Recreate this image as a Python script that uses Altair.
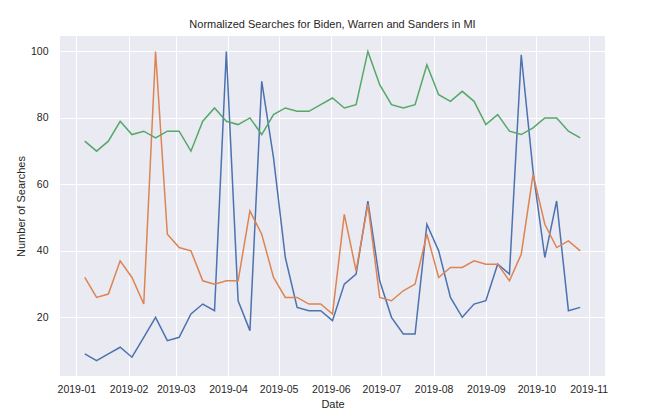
import altair as alt
import pandas as pd

dates = [
    "2019-01-06", "2019-01-13", "2019-01-20", "2019-01-27", "2019-02-03", "2019-02-10",
    "2019-02-17", "2019-02-24", "2019-03-03", "2019-03-10", "2019-03-17", "2019-03-24",
    "2019-03-31", "2019-04-07", "2019-04-14", "2019-04-21", "2019-04-28", "2019-05-05",
    "2019-05-12", "2019-05-19", "2019-05-26", "2019-06-02", "2019-06-09", "2019-06-16",
    "2019-06-23", "2019-06-30", "2019-07-07", "2019-07-14", "2019-07-21", "2019-07-28",
    "2019-08-04", "2019-08-11", "2019-08-18", "2019-08-25", "2019-09-01", "2019-09-08",
    "2019-09-15", "2019-09-22", "2019-09-29", "2019-10-06", "2019-10-13", "2019-10-20",
    "2019-10-27",
]
biden = [9, 7, 9, 11, 8, 14, 20, 13, 14, 21, 24, 22, 100, 25, 16, 91, 68, 38, 23, 22, 22,
         19, 30, 33, 55, 31, 20, 15, 15, 48, 40, 26, 20, 24, 25, 36, 33, 99, 64, 38, 55, 22, 23]
warren = [32, 26, 27, 37, 32, 24, 100, 45, 41, 40, 31, 30, 31, 31, 52, 45, 32, 26, 26, 24, 24,
          21, 51, 34, 54, 26, 25, 28, 30, 45, 32, 35, 35, 37, 36, 36, 31, 39, 63, 48, 41, 43, 40]
sanders = [73, 70, 73, 79, 75, 76, 74, 76, 76, 70, 79, 83, 79, 78, 80, 75, 81, 83, 82, 82, 84,
           86, 83, 84, 100, 90, 84, 83, 84, 96, 87, 85, 88, 85, 78, 81, 76, 75, 77, 80, 80, 76, 74]
series = ["Biden", "Warren", "Sanders"]
colors = ["#4C72B0", "#DD8452", "#55A868"]
y_ticks = [20, 40, 60, 80, 100]
month_ticks = list(range(1, 12))

df = pd.DataFrame({"date": dates, "Biden": biden, "Warren": warren, "Sanders": sanders})

FONT = "Liberation Sans"
TXT = "#262626"

x_enc = alt.X(
    "date:T",
    title="Date",
    scale=alt.Scale(
        type="utc",
        domain=[
            alt.DateTime(year=2018, month=12, date=22, hours=7, minutes=12, utc=True),
            alt.DateTime(year=2019, month=11, date=10, hours=16, minutes=48, utc=True),
        ],
    ),
    axis=alt.Axis(
        values=[alt.DateTime(year=2019, month=m, date=1, utc=True) for m in month_ticks],
        format="%Y-%m",
        labelPadding=8,
        titlePadding=4,
        labelFlush=False,
    ),
)

layers = []
for name, col in zip(series, colors):
    layers.append(
        alt.Chart(df)
        .mark_line(color=col, strokeWidth=1.5)
        .encode(
            x=x_enc,
            y=alt.Y(
                f"{name}:Q",
                title="Number of Searches",
                scale=alt.Scale(domain=[2.35, 104.65], nice=False, zero=False),
                axis=alt.Axis(values=y_ticks, labelPadding=12, titlePadding=4),
            ),
        )
    )

chart = (
    alt.layer(*layers)
    .properties(
        width=545,
        height=340,
        title=alt.TitleParams(
            "Normalized Searches for Biden, Warren and Sanders in MI",
            font=FONT,
            fontSize=11,
            fontWeight="normal",
            color=TXT,
            anchor="middle",
            offset=6,
        ),
        autosize=alt.AutoSizeParams(type="none"),
        padding={"left": 52, "top": 28, "right": 35, "bottom": 36},
    )
    .configure_view(fill="#EAEAF2", strokeWidth=0)
    .configure_axis(
        domain=False,
        ticks=False,
        gridColor="white",
        gridWidth=1,
        gridOpacity=1,
        labelFont=FONT,
        labelFontSize=10.5,
        labelColor=TXT,
        titleFont=FONT,
        titleFontSize=11,
        titleFontWeight="normal",
        titleColor=TXT,
    )
)

chart.save("out.html", embed_options={"renderer": "svg", "actions": False})
